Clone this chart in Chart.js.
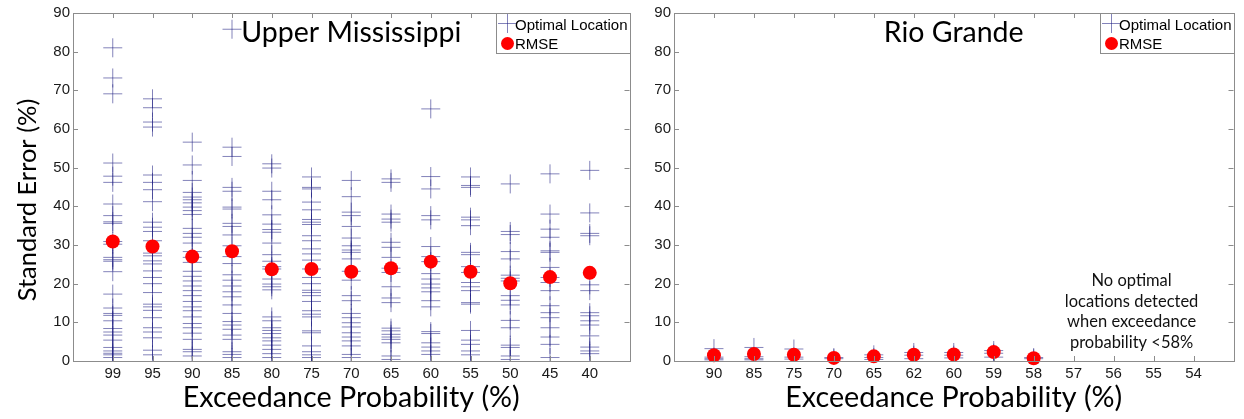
<!DOCTYPE html>
<html>
<head>
<meta charset="utf-8">
<script src="https://cdn.jsdelivr.net/npm/chart.js@4.4.1/dist/chart.umd.min.js"></script>
<style>
  body { margin: 0; background: #fff; }
  #wrap { position: relative; width: 1244px; height: 419px; }
  .panel { position: absolute; top: 0; height: 419px; }
  #left { left: 0; width: 640px; }
  #right { left: 640px; width: 604px; }
</style>
</head>
<body>
<div id="wrap">
  <div class="panel" id="left"><canvas id="umChart" width="640" height="419"></canvas></div>
  <div class="panel" id="right"><canvas id="rgChart" width="604" height="419"></canvas></div>
</div>
<script>
// Upper Mississippi
const umCategories = ["99", "95", "90", "85", "80", "75", "70", "65", "60", "55", "50", "45", "40"];
const umRmse = [30.9, 29.6, 27.0, 28.4, 23.7, 23.8, 23.1, 24.0, 25.7, 23.1, 20.1, 21.7, 22.8];
const umOptimal = [
  [81.0, 73.2, 69.1, 51.2, 47.8, 46.2, 40.6, 37.6, 36.0, 35.6, 30.9, 30.2, 26.8, 26.2, 25.8, 23.1, 17.3, 13.7, 12.3, 11.8, 10.4, 8.4, 7.5, 6.7, 5.4, 3.5, 2.6, 2.0, 1.6, 0.9],
  [67.8, 65.5, 61.8, 60.5, 48.1, 46.2, 44.3, 41.2, 35.9, 34.6, 33.5, 31.1, 27.9, 27.2, 25.9, 25.1, 23.3, 21.6, 20.0, 17.7, 14.7, 14.0, 13.1, 11.2, 8.6, 7.5, 6.0, 2.8, 1.6],
  [56.6, 50.7, 46.7, 43.6, 42.4, 41.7, 40.9, 39.8, 38.9, 37.9, 34.3, 33.0, 32.0, 30.5, 28.3, 26.8, 25.5, 23.2, 21.9, 20.7, 19.4, 18.2, 16.9, 15.4, 14.0, 13.0, 11.4, 9.7, 8.6, 7.2, 5.6, 3.0, 2.4, 1.3],
  [85.8, 55.3, 52.9, 44.9, 43.9, 39.8, 39.3, 35.6, 34.8, 32.6, 29.8, 27.0, 25.2, 22.3, 20.9, 19.4, 17.9, 16.6, 14.5, 12.3, 10.2, 9.3, 8.2, 6.7, 5.6, 2.4, 1.7, 0.9],
  [51.0, 49.9, 43.9, 41.7, 37.8, 35.4, 34.0, 33.3, 30.5, 27.5, 25.8, 24.4, 23.8, 21.2, 19.9, 19.2, 18.4, 11.4, 10.4, 8.6, 7.9, 7.1, 6.0, 5.2, 4.1, 3.0, 1.9, 0.9],
  [47.6, 44.9, 44.5, 41.1, 39.1, 36.6, 35.9, 35.3, 32.4, 31.1, 29.0, 27.7, 26.1, 23.8, 21.6, 20.0, 18.3, 17.7, 16.9, 15.4, 13.0, 12.1, 11.4, 7.8, 7.3, 3.9, 2.4, 1.6, 0.9],
  [46.7, 42.5, 38.5, 37.6, 34.8, 31.8, 29.8, 28.7, 28.1, 26.4, 23.2, 20.9, 16.9, 15.6, 12.3, 11.2, 9.9, 8.8, 7.3, 6.2, 5.2, 3.9, 1.7, 0.9],
  [47.1, 46.2, 38.0, 36.7, 35.9, 30.7, 29.4, 26.8, 24.0, 22.9, 19.2, 16.3, 15.1, 8.5, 7.8, 6.9, 6.2, 5.6, 4.7, 1.3, 0.4],
  [65.2, 47.7, 44.5, 37.6, 36.5, 29.6, 27.0, 25.7, 22.6, 21.2, 19.9, 18.9, 17.9, 15.6, 14.0, 7.6, 7.1, 4.7, 3.6, 2.6, 1.7],
  [47.6, 45.4, 44.9, 37.2, 36.5, 35.0, 28.1, 27.5, 24.4, 22.9, 20.3, 19.2, 18.2, 15.1, 14.7, 7.9, 5.4, 4.3, 2.6, 1.6],
  [45.8, 33.5, 32.7, 28.3, 26.4, 22.2, 21.4, 20.7, 16.9, 15.7, 14.5, 10.5, 8.6, 4.1, 3.5, 1.3, 0.4],
  [48.4, 38.0, 34.1, 32.0, 28.5, 28.1, 24.2, 21.6, 20.3, 18.2, 14.3, 12.5, 11.2, 8.6, 6.2, 4.3, 0.9],
  [49.3, 38.3, 33.0, 32.4, 19.7, 18.2, 12.5, 11.7, 10.4, 9.3, 6.5, 3.6, 2.6, 1.9]
];

// Rio Grande
const rgCategories = ["90", "85", "75", "70", "65", "62", "60", "59", "58", "57", "56", "55", "54"];
const rgRmse = [1.5, 1.8, 1.6, 0.8, 1.2, 1.6, 1.7, 2.3, 0.7];
const rgOptimal = [
  [3.2, 1.0, 0.6, 0.3],
  [3.5, 1.1, 0.6, 0.3],
  [3.1, 1.0, 0.5],
  [0.9, 0.6],
  [1.6, 0.9, 0.4],
  [2.2, 1.5, 0.6],
  [2.2, 1.5, 0.8],
  [2.7, 2.0, 1.0],
  [0.9, 0.6]
];
const rgNote = ["No optimal", "locations detected", "when exceedance", "probability <58%"];

const yMin = 0, yMax = 90, yStep = 10;

const crossColor = "rgba(30, 30, 130, 0.55)";
const dotColor = "#ff0000";
const axisGray = "#8c8c8c";
const tickText = "#1a1a1a";
const sansFont = "'Liberation Sans', Arial, sans-serif";
const titleFont = "Lato, 'Open Sans', sans-serif";

function crossPoints(cols) {
  const pts = [];
  cols.forEach((vals, i) => vals.forEach((v) => pts.push({ x: i + 1, y: v })));
  return pts;
}
function dotPoints(vals) {
  return vals.map((v, i) => ({ x: i + 1, y: v }));
}

// MATLAB-ish box: inward ticks, grey frame, in-plot title, legend box, note
const matlabFrame = {
  id: "matlabFrame",
  afterDatasetsDraw(chart, args, opts) {
    const { ctx, chartArea: a, scales } = chart;
    ctx.save();
    ctx.strokeStyle = axisGray;
    ctx.lineWidth = 1;
    ctx.beginPath();
    scales.x.ticks.forEach((t) => {
      if (t.value < 1 || t.value > opts.labels.length) return;
      const px = Math.round(scales.x.getPixelForValue(t.value)) + 0.5;
      ctx.moveTo(px, a.bottom); ctx.lineTo(px, a.bottom - 5);
      ctx.moveTo(px, a.top); ctx.lineTo(px, a.top + 5);
    });
    scales.y.ticks.forEach((t) => {
      const py = Math.round(scales.y.getPixelForValue(t.value)) + 0.5;
      ctx.moveTo(a.left, py); ctx.lineTo(a.left + 5, py);
      ctx.moveTo(a.right, py); ctx.lineTo(a.right - 5, py);
    });
    ctx.stroke();
    ctx.strokeRect(Math.round(a.left) + 0.5, Math.round(a.top) + 0.5,
      Math.round(a.right - a.left), Math.round(a.bottom - a.top));

    // panel title inside the axes
    ctx.fillStyle = "#000";
    ctx.font = "28.5px " + titleFont;
    ctx.textAlign = "center";
    ctx.textBaseline = "alphabetic";
    ctx.fillText(opts.title, (a.left + a.right) / 2, a.top + 29);

    // legend box, top right
    const ds = chart.data.datasets;
    const lw = 134, lh = 40;
    const lx = Math.round(a.right) - lw, ly = Math.round(a.top);
    ctx.fillStyle = "#fff";
    ctx.fillRect(lx, ly, lw, lh);
    ctx.strokeStyle = axisGray;
    ctx.strokeRect(lx + 0.5, ly + 0.5, lw, lh);
    ctx.strokeStyle = ds[1].borderColor;
    ctx.beginPath();
    ctx.moveTo(lx + 11.5, ly + 1); ctx.lineTo(lx + 11.5, ly + 20);
    ctx.moveTo(lx + 2, ly + 10.5); ctx.lineTo(lx + 21, ly + 10.5);
    ctx.stroke();
    ctx.fillStyle = ds[0].backgroundColor;
    ctx.beginPath();
    ctx.arc(lx + 11.5, ly + 30.5, 6.5, 0, Math.PI * 2);
    ctx.fill();
    ctx.fillStyle = "#000";
    ctx.font = "15px " + sansFont;
    ctx.textAlign = "left";
    ctx.fillText(ds[1].label, lx + 19, ly + 17);
    ctx.fillText(ds[0].label, lx + 19, ly + 36);

    // note text
    if (opts.note) {
      ctx.font = "16.5px " + titleFont;
      ctx.textAlign = "center";
      ctx.fillStyle = "#111";
      const nx = scales.x.getPixelForValue(opts.noteX);
      opts.note.forEach((line, i) => {
        ctx.fillText(line, nx, a.bottom - 75 + i * 20.7);
      });
    }
    ctx.restore();
  },
};

function makeChart(canvasId, labels, rmse, optimal, opts) {
  return new Chart(document.getElementById(canvasId), {
    type: "scatter",
    data: {
      datasets: [
        {
          label: "RMSE",
          data: dotPoints(rmse),
          pointStyle: "circle",
          pointRadius: 7,
          pointBorderWidth: 0,
          backgroundColor: dotColor,
          borderColor: dotColor,
          clip: false,
        },
        {
          label: "Optimal Location",
          data: crossPoints(optimal),
          pointStyle: "cross",
          pointRadius: 9.5,
          pointBorderWidth: 1,
          borderColor: crossColor,
          backgroundColor: crossColor,
        },
      ],
    },
    plugins: [matlabFrame],
    options: {
      responsive: false,
      animation: false,
      events: [],
      layout: { padding: { top: 13, right: opts.padRight, left: 0, bottom: 0 } },
      plugins: {
        legend: { display: false },
        tooltip: { enabled: false },
        matlabFrame: { title: opts.title, labels: labels, note: opts.note, noteX: opts.noteX },
      },
      scales: {
        x: {
          type: "linear",
          min: 0,
          max: labels.length + 1,
          afterFit: (s) => { s.height = 58; },
          grid: { display: false, drawTicks: false },
          border: { display: false },
          ticks: {
            stepSize: 1,
            autoSkip: false,
            maxRotation: 0,
            padding: 4,
            color: tickText,
            font: { family: sansFont, size: 15 },
            callback: (v) => labels[v - 1] || "",
          },
          title: {
            display: true,
            text: "Exceedance Probability (%)",
            color: "#000",
            font: { family: titleFont, size: 28.7 },
            padding: { top: 0, bottom: 4 },
          },
        },
        y: {
          min: yMin,
          max: yMax,
          afterFit: (s) => { s.width = opts.yWidth; },
          grid: { display: false, drawTicks: false },
          border: { display: false },
          ticks: {
            stepSize: yStep,
            padding: 3,
            color: tickText,
            font: { family: sansFont, size: 15 },
          },
          title: {
            display: opts.yTitle,
            // trailing no-break spaces nudge the centred label downward, as in the figure
            text: "Standard Error (%)\u00a0\u00a0\u00a0\u00a0",
            color: "#000",
            font: { family: titleFont, size: 25.5 },
            padding: { top: 12, bottom: 0 },
          },
        },
      },
    },
  });
}

makeChart("umChart", umCategories, umRmse, umOptimal, {
  title: "Upper Mississippi", yWidth: 73, padRight: 7, yTitle: true,
});
makeChart("rgChart", rgCategories, rgRmse, rgOptimal, {
  title: "Rio Grande", yWidth: 34, padRight: 10, yTitle: false,
  note: rgNote, noteX: 11.45,
});
</script>
</body>
</html>
